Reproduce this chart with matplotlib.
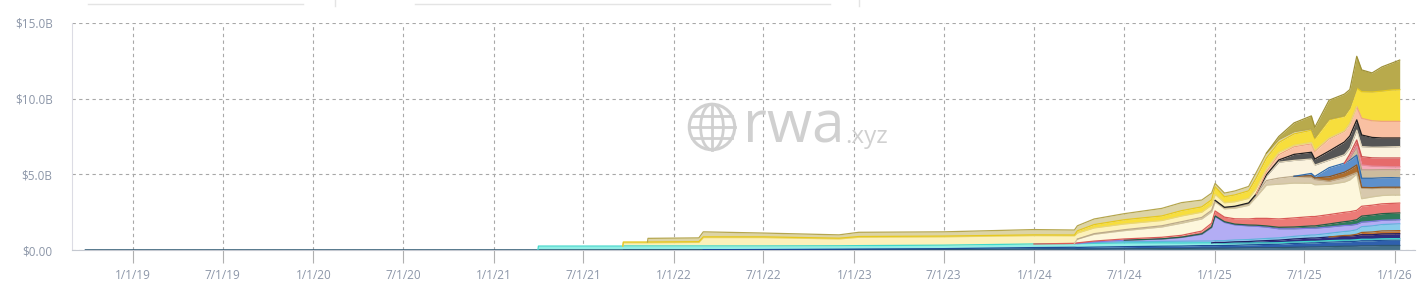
import numpy as np
import pandas as pd
import matplotlib
matplotlib.use('Agg')
import matplotlib.pyplot as plt
import matplotlib.dates as mdates
from matplotlib.patches import Circle, Ellipse


# Sample dates of the stacked series (values in $B)
dates = ['2018-09-26', '2021-03-31', '2021-04-01', '2021-09-19', '2021-09-20',
         '2021-11-08', '2021-11-09', '2022-02-20', '2022-03-01', '2022-07-01',
         '2022-12-01', '2023-01-10', '2023-07-01', '2023-12-31', '2024-03-22',
         '2024-03-28', '2024-05-01', '2024-07-01', '2024-09-15', '2024-10-25',
         '2024-12-05', '2024-12-25', '2025-01-01', '2025-01-20', '2025-02-10',
         '2025-03-10', '2025-03-25', '2025-04-15', '2025-05-10', '2025-06-10',
         '2025-07-15', '2025-07-22', '2025-08-20', '2025-09-20', '2025-10-01',
         '2025-10-15', '2025-10-25', '2025-11-15', '2025-12-05', '2025-12-25',
         '2026-01-10']

# series, bottom to top
slate = [.01, .01, .01, .01, .02, .02, .02, .02, .02, .02, .03, .03, .04, .06, .06, .05, .06, .08, .1, .1,
         .12, .12, .12, .12, .13, .14, .15, .15, .16, .18, .2, .2, .22, .25, .25, .26, .28, .28, .3, .3, .3]
blue = [0, 0, 0, 0, 0, 0, 0, 0, 0, .01, .02, .03, .05, .1, .12, .12, .13, .14, .15, .16,
        .17, .17, .17, .18, .18, .2, .2, .22, .22, .25, .27, .27, .3, .3, .3, .32, .33, .33, .34, .35, .35]
cyan = [0, 0, .25, .25, .25, .25, .25, .25, .25, .24, .23, .23, .23, .24, .24, .25, .25, .25, .22, .2,
        .18, .18, .18, .15, .15, .12, .12, .1, .1, .1, .1, .1, .1, .1, .1, .1, .1, .1, .1, .1, .1]
navy = [0] * 22 + [.03, .05, .08, .1, .12, .15, .17, .2, .22, .22, .24, .26, .27, .28, .3, .3, .32, .32, .33]
brown = [0] * 33 + [.05, .05, .08, .15, .18, .2, .2, .2]
sky = [0] * 16 + [.05, .08, .1, .12, .12, .12, .12, .12, .12, .13, .13, .14, .15, .17, .2, .2,
                  .24, .26, .28, .3, .38, .4, .42, .44, .45]
lavender = [0] * 15 + [.02, .05, .1, .15, .25, .45, .9, 1.6, 1.2, 1.0, .9, .85, .75, .6, .5, .45, .45,
                       .42, .4, .38, .36, .3, .3, .28, .27, .27]
green = [0] * 18 + [.02, .02, .03, .03, .03, .05, .05, .06, .07, .08, .1, .12, .15, .15, .2, .25,
                    .28, .3, .4, .42, .44, .45, .45]
red = [0] * 14 + [.02, .03, .05, .08, .1, .12, .18, .25, .33, .3, .35, .4, .45, .5, .55, .6, .62, .62,
                  .62, .62, .62, .62, .65, .65, .65, .65, .65]
cream = [0] * 15 + [.25, .45, .55, .68, .8, .8, .75, .6, .55, .7, .9, 1.4, 2.2, 2.3, 2.3, 2.2, 2.1,
                    2.0, 2.0, 2.1, 2.4, .5, .55, .55, .55, .53]
tan = [0] * 16 + [.04, .06, .08, .1, .1, .1, .1, .08, .1, .12, .15, .3, .4, .45, .4, .35, .2, .3,
                  .3, .1, .69, .55, .5, .47, .47]
brown2 = [0] * 30 + [.1, .1, .3, .35, .4, .5, .06, .06, .05, .05, .05]
steel = [0] * 30 + [.15, .1, .6, .6, .6, .65, .6, .62, .62, .63, .61]
tan2 = [0] * 34 + [.1, .5, .55, .55, .53, .52, .54]
pink = [0] * 34 + [.1, .1, .33, .25, .22, .2, .2]
red2 = [0] * 34 + [.2, .4, .55, .55, .56, .58, .58]
cream2 = [0] * 27 + [.3, 1.05, 1.05, .95, .75, .5, .55, .4, .65, .66, .7, .72, .74, .75]
dark = [0] * 23 + [.02, .03, .04, .05, .08, .15, .4, .45, .4, .6, .85, .8, .68, .77, .65, .6, .58, .57]
peach = [0] * 27 + [.2, .35, .5, .55, .5, .8, .7, .8, .87, 1.1, 1.1, 1.1, 1.1, 1.1]
pale = [0, 0, 0, 0, .21, .21, .21, .23, .55, .55, .45, .55, .55, .55, .5, .4, .38, .38, .35, .38,
        .35, .35, .4, .3, .3, .3, .35, .2, .15, .1, .1, .08, .06, .04, .03, 0, 0, 0, 0, 0, 0]
yellow = [0, 0, 0, 0, .05, .05, .05, .05, .05, .05, .05, .05, .05, .05, .05, .15, .22, .28, .3, .35,
          .35, .35, .5, .4, .45, .5, .7, .7, .65, .75, .8, .75, 1.2, .95, 1.0, 1.23, 1.76, 1.9, 2.0, 2.08, 2.1]
khaki = [0, 0, 0, 0, 0, 0, .24, .25, .33, .25, .22, .28, .28, .35, .33, .33, .37, .4, .5, .53,
         .45, .44, .22, .24, .26, .29, .36, .33, .2, .15, .1, .08, .05, .04, .03, 0, 0, 0, 0, 0, 0]
olive = [0] * 28 + [.2, .58, .85, .68, 1.25, 1.43, 1.21, 2.1, 1.44, 1.26, 1.6, 1.77, 1.95]

y_ticks = [0, 5, 10, 15]
y_labels = ['$0.00', '$5.0B', '$10.0B', '$15.0B']


def main():
    layers = [
        (slate, '#45718a', '#2e5872'),
        (blue, '#2f60ad', '#1f4c94'),
        (cyan, '#92eee6', '#3ed8cb'),
        (navy, '#2f2c80', '#222066'),
        (brown, '#c27330', '#a55e22'),
        (sky, '#88cceb', '#5fb3db'),
        (lavender, '#b3adf4', '#8079e0'),
        (green, '#2f7b5b', '#245f46'),
        (red, '#ec7b77', '#d95a57'),
        (cream, '#fdf7dc', '#d2c69e'),
        (tan, '#d8c9ad', '#bba98a'),
        (brown2, '#ad6d2c', '#8e5620'),
        (steel, '#5d90cc', '#2f6aab'),
        (tan2, '#cdbc9e', '#b09f80'),
        (pink, '#f5aab9', '#e48a9c'),
        (red2, '#e66b6b', '#cc5151'),
        (cream2, '#fbf3de', '#e0d4b8'),
        (dark, '#555555', '#1e1e1e'),
        (peach, '#f9c0a2', '#eea482'),
        (pale, '#fcf1ba', '#e9d677'),
        (yellow, '#f7de3c', '#e6c81e'),
        (khaki, '#ddd4a5', '#b5a64e'),
        (olive, '#b8aa4c', '#9f9136'),
    ]

    x = mdates.date2num(pd.to_datetime(dates))

    fig = plt.figure(figsize=(14.19, 2.98), dpi=100)
    ax = fig.add_axes([72 / 1419, 1 - 250 / 298, 1343 / 1419, 227 / 298])

    # stacked areas
    base = np.zeros(len(x))
    for vals, fc, ec in layers:
        vals = np.array(vals, dtype=float)
        top = base + vals
        ax.fill_between(x, base, top, color=fc, linewidth=0, zorder=2)
        on = vals > 0
        near = on.copy()
        near[1:] |= on[:-1]
        near[:-1] |= on[1:]
        ax.plot(x, np.where(near, top, np.nan), color=ec, lw=0.9, zorder=3)
        base = top

    # axes styling
    ax.set_xlim(mdates.date2num(pd.Timestamp('2018-08-30')), mdates.date2num(pd.Timestamp('2026-02-10')))
    ax.set_ylim(0, 15)
    ax.set_yticks(y_ticks)
    ax.set_yticklabels(y_labels)

    half_years = pd.date_range('2019-01-01', '2026-01-01', freq='6MS')
    ax.set_xticks(mdates.date2num(half_years))
    ax.set_xticklabels([f'{d.month}/{d.day}/{d.strftime("%y")}' for d in half_years])

    ax.grid(True, color='#a8a8a8', linestyle=(0, (3, 3)), linewidth=0.8)
    ax.set_axisbelow(True)
    for side in ['top', 'right']:
        ax.spines[side].set_visible(False)
    ax.spines['left'].set_color('#dcdce4')
    ax.spines['bottom'].set_color('#c4c8d0')

    ax.tick_params(axis='y', length=0, pad=14, labelsize=8.5, labelcolor='#8c96a8')
    ax.tick_params(axis='x', length=9, width=0.8, color='#b0b0b0', pad=5,
                   labelsize=8.5, labelcolor='#8c96a8')
    for lab in ax.get_xticklabels() + ax.get_yticklabels():
        lab.set_family('Open Sans')

    # watermark
    fig.text(743 / 1419, 1 - 143 / 298, 'rwa', fontsize=42, color='#d0d0d0',
             family='Open Sans', va='baseline', ha='left', zorder=1)
    fig.text(845 / 1419, 1 - 143 / 298, '.xyz', fontsize=17.5, color='#d0d0d0',
             family='Open Sans', va='baseline', ha='left', zorder=1)
    gax = fig.add_axes([(712 - 25) / 1419, 1 - (127 + 25) / 298, 50 / 1419, 50 / 298])
    gax.set_xlim(-1.1, 1.1)
    gax.set_ylim(-1.1, 1.1)
    gax.set_aspect('equal')
    gax.axis('off')
    gcol = '#d0d0d0'
    gax.add_patch(Circle((0, 0), 1, fill=False, ec=gcol, lw=2.2))
    gax.add_patch(Ellipse((0, 0), 1.0, 2.0, fill=False, ec=gcol, lw=2.0))
    gax.plot([0, 0], [-1, 1], color=gcol, lw=2.0)
    for yy in [-0.5, 0, 0.5]:
        w = np.sqrt(1 - yy ** 2)
        gax.plot([-w, w], [yy, yy], color=gcol, lw=2.0)

    # faint edges of the cut-off controls above the chart
    for x0, x1 in [(88, 303), (415, 830)]:
        fig.add_artist(plt.Line2D([x0 / 1419, x1 / 1419], [1 - 4 / 298, 1 - 4 / 298],
                                  color='#e4e4e4', lw=1))
    for xv in [335, 859]:
        fig.add_artist(plt.Line2D([xv / 1419, xv / 1419], [1, 1 - 6 / 298], color='#e4e4e4', lw=1))

    fig.savefig('out.png', dpi=100)


if __name__ == '__main__':
    main()
